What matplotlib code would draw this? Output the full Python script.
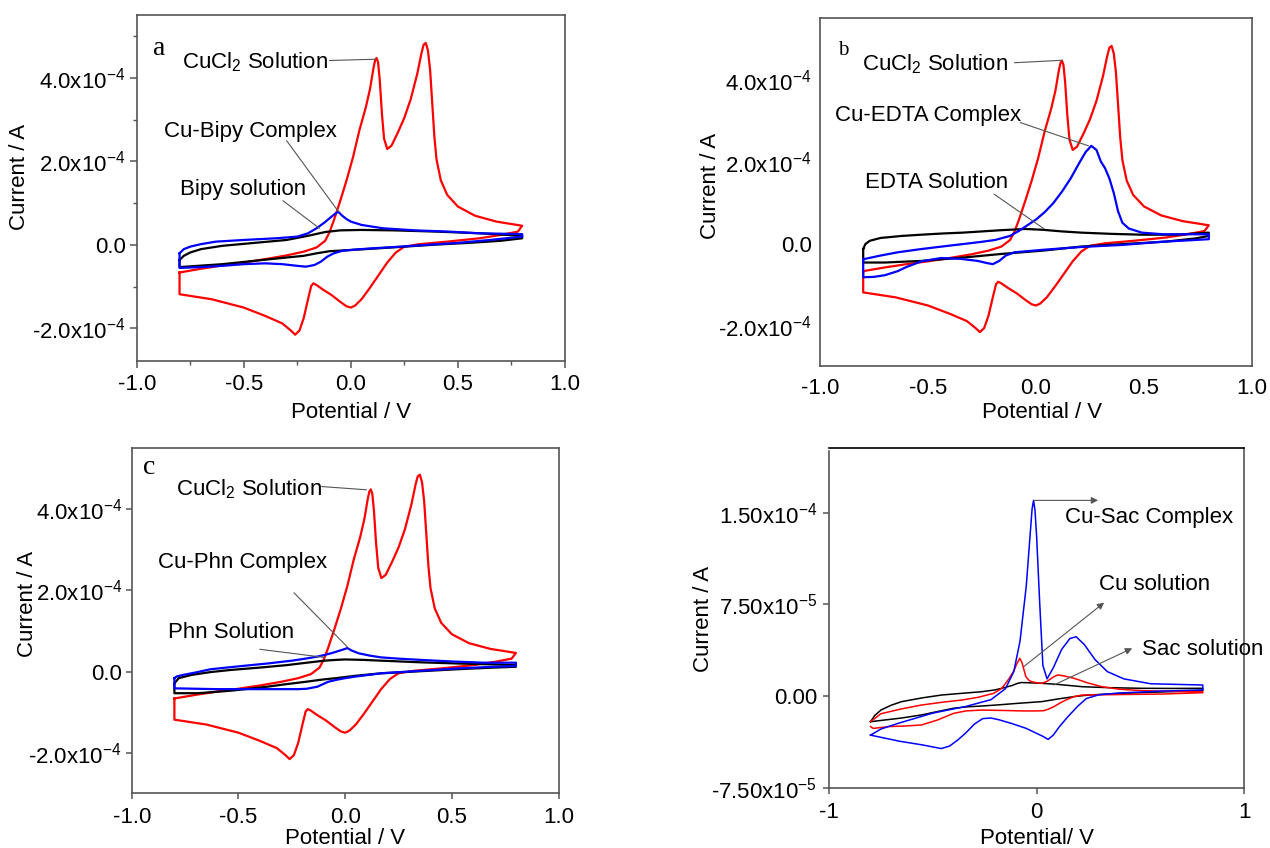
import matplotlib
matplotlib.use('Agg')
import matplotlib.pyplot as plt
import numpy as np

plt.rcParams['font.family'] = ['Liberation Sans', 'DejaVu Sans']
plt.rcParams['mathtext.fontset'] = 'custom'
plt.rcParams['mathtext.rm'] = 'Liberation Sans'
plt.rcParams['mathtext.it'] = 'Liberation Sans:italic'
plt.rcParams['axes.unicode_minus'] = False

# ─── DATA (potential in V, current in 1e-4 A for a-c, 1e-5 A for d) ─────────

# CuCl2 solution, same voltammogram in panels a, b, c
cucl2_fwd_x = [-0.80, -0.70, -0.60, -0.50, -0.40, -0.30, -0.22, -0.16, -0.12, -0.10,
               -0.08, -0.05, -0.02, 0.01, 0.04, 0.07, 0.09, 0.105, 0.113, 0.12,
               0.127, 0.135, 0.145, 0.155, 0.17, 0.19, 0.22, 0.25, 0.28, 0.31,
               0.33, 0.34, 0.35, 0.36, 0.37, 0.38, 0.39, 0.40, 0.42, 0.45,
               0.50, 0.58, 0.68, 0.80]
cucl2_fwd_i = [-0.66, -0.57, -0.49, -0.42, -0.34, -0.25, -0.16, -0.06, 0.10, 0.30,
               0.58, 1.05, 1.55, 2.10, 2.75, 3.30, 3.75, 4.22, 4.42, 4.48,
               4.38, 3.95, 3.15, 2.55, 2.30, 2.38, 2.70, 3.05, 3.50, 4.10,
               4.60, 4.80, 4.84, 4.66, 4.20, 3.40, 2.60, 2.05, 1.55, 1.20,
               0.92, 0.70, 0.56, 0.46]
cucl2_rev_x = [0.80, 0.78, 0.70, 0.60, 0.45, 0.32, 0.25, 0.21, 0.17, 0.13,
               0.09, 0.05, 0.02, 0.00, -0.02, -0.05, -0.09, -0.13, -0.16, -0.175,
               -0.185, -0.20, -0.22, -0.24, -0.26, -0.28, -0.32, -0.40, -0.50, -0.65,
               -0.80, -0.80]
cucl2_rev_i = [0.46, 0.32, 0.24, 0.16, 0.08, 0.02, -0.04, -0.18, -0.42, -0.72,
               -1.02, -1.30, -1.45, -1.50, -1.47, -1.36, -1.20, -1.07, -0.96, -0.92,
               -0.98, -1.30, -1.75, -2.05, -2.15, -2.05, -1.88, -1.70, -1.50, -1.30,
               -1.18, -0.66]

# panel a: Cu-Bipy complex and Bipy solution
bipy_cx_fwd_x = [-0.80, -0.78, -0.75, -0.70, -0.63, -0.50, -0.35, -0.25, -0.20, -0.16,
                 -0.12, -0.09, -0.06, -0.04, -0.02, 0.00, 0.05, 0.15, 0.30, 0.46, 0.60, 0.80]
bipy_cx_fwd_i = [-0.20, -0.10, -0.04, 0.02, 0.08, 0.12, 0.16, 0.20, 0.28, 0.40,
                 0.55, 0.68, 0.80, 0.70, 0.62, 0.56, 0.48, 0.40, 0.35, 0.32, 0.28, 0.26]
bipy_cx_rev_x = [0.80, 0.65, 0.50, 0.35, 0.20, 0.10, 0.02, -0.04, -0.08, -0.11,
                 -0.14, -0.17, -0.21, -0.25, -0.32, -0.40, -0.50, -0.60, -0.70, -0.80, -0.80]
bipy_cx_rev_i = [0.20, 0.12, 0.05, 0.00, -0.05, -0.08, -0.11, -0.14, -0.20, -0.28,
                 -0.40, -0.48, -0.52, -0.50, -0.46, -0.44, -0.46, -0.50, -0.53, -0.55, -0.20]
bipy_fwd_x = [-0.80, -0.78, -0.75, -0.70, -0.60, -0.45, -0.30, -0.20, -0.12, -0.05,
              0.05, 0.20, 0.40, 0.60, 0.80]
bipy_fwd_i = [-0.36, -0.26, -0.18, -0.10, -0.02, 0.05, 0.12, 0.22, 0.31, 0.35,
              0.36, 0.35, 0.32, 0.28, 0.22]
bipy_rev_x = [0.80, 0.70, 0.55, 0.40, 0.25, 0.10, 0.00, -0.10, -0.16, -0.22,
              -0.30, -0.45, -0.60, -0.80, -0.80]
bipy_rev_i = [0.16, 0.10, 0.05, 0.01, -0.04, -0.09, -0.12, -0.15, -0.20, -0.26,
              -0.30, -0.38, -0.46, -0.53, -0.36]

# panel b: Cu-EDTA complex and EDTA solution
edta_cx_fwd_x = [-0.80, -0.72, -0.64, -0.53, -0.42, -0.34, -0.26, -0.19, -0.12, -0.08,
                 -0.04, 0.00, 0.04, 0.08, 0.12, 0.16, 0.20, 0.23, 0.256, 0.28,
                 0.30, 0.32, 0.34, 0.36, 0.38, 0.40, 0.43, 0.49, 0.59, 0.70, 0.80]
edta_cx_fwd_i = [-0.37, -0.28, -0.20, -0.12, -0.05, 0.00, 0.05, 0.10, 0.20, 0.32,
                 0.46, 0.60, 0.78, 1.00, 1.28, 1.60, 1.98, 2.25, 2.40, 2.30,
                 2.02, 1.85, 1.60, 1.25, 0.80, 0.52, 0.38, 0.28, 0.24, 0.24, 0.24]
edta_cx_rev_x = [0.80, 0.70, 0.59, 0.40, 0.21, 0.03, -0.10, -0.14, -0.17, -0.20,
                 -0.23, -0.27, -0.35, -0.44, -0.53, -0.60, -0.64, -0.70, -0.75, -0.80, -0.80]
edta_cx_rev_i = [0.12, 0.09, 0.06, -0.02, -0.07, -0.14, -0.20, -0.28, -0.41, -0.49,
                 -0.46, -0.41, -0.36, -0.34, -0.42, -0.56, -0.66, -0.76, -0.80, -0.81, -0.37]
edta_fwd_x = [-0.80, -0.79, -0.77, -0.72, -0.62, -0.53, -0.43, -0.34, -0.25, -0.16,
              -0.05, 0.03, 0.12, 0.21, 0.35, 0.49, 0.65, 0.80]
edta_fwd_i = [-0.12, 0.00, 0.08, 0.15, 0.20, 0.23, 0.26, 0.28, 0.31, 0.34,
              0.37, 0.35, 0.31, 0.28, 0.25, 0.23, 0.23, 0.28]
edta_rev_x = [0.80, 0.74, 0.60, 0.40, 0.21, 0.03, -0.16, -0.34, -0.53, -0.70, -0.80, -0.80]
edta_rev_i = [0.20, 0.14, 0.06, 0.00, -0.06, -0.16, -0.24, -0.33, -0.41, -0.45, -0.45, -0.12]

# panel c: Cu-Phn complex and Phn solution
phn_cx_fwd_x = [-0.80, -0.79, -0.76, -0.70, -0.63, -0.50, -0.365, -0.25, -0.186, -0.13,
                -0.097, -0.06, -0.03, 0.00, 0.01, 0.03, 0.064, 0.12, 0.17, 0.25,
                0.35, 0.50, 0.65, 0.80]
phn_cx_fwd_i = [-0.16, -0.12, -0.08, -0.02, 0.06, 0.13, 0.20, 0.27, 0.32, 0.37,
                0.41, 0.46, 0.51, 0.56, 0.58, 0.52, 0.45, 0.39, 0.35, 0.32,
                0.29, 0.25, 0.22, 0.22]
phn_cx_rev_x = [0.80, 0.65, 0.53, 0.35, 0.17, 0.05, 0.00, -0.04, -0.08, -0.13,
                -0.18, -0.22, -0.30, -0.45, -0.60, -0.80, -0.80]
phn_cx_rev_i = [0.14, 0.11, 0.08, 0.02, -0.04, -0.12, -0.16, -0.20, -0.25, -0.37,
                -0.42, -0.43, -0.43, -0.43, -0.43, -0.41, -0.16]
phn_fwd_x = [-0.80, -0.78, -0.72, -0.63, -0.54, -0.40, -0.275, -0.18, -0.097, -0.04,
             0.00, 0.08, 0.17, 0.35, 0.53, 0.68, 0.80]
phn_fwd_i = [-0.29, -0.16, -0.08, -0.01, 0.04, 0.10, 0.16, 0.22, 0.27, 0.29,
             0.30, 0.29, 0.27, 0.23, 0.20, 0.18, 0.16]
phn_rev_x = [0.80, 0.65, 0.53, 0.35, 0.17, 0.05, -0.043, -0.10, -0.186, -0.28,
             -0.365, -0.45, -0.54, -0.69, -0.80, -0.80]
phn_rev_i = [0.12, 0.09, 0.06, 0.01, -0.04, -0.10, -0.16, -0.19, -0.25, -0.31,
             -0.37, -0.42, -0.47, -0.53, -0.53, -0.29]

# panel d (1e-5 A): Cu-Sac complex, Cu solution, Sac solution
sac_cx_fwd_x = [-0.80, -0.75, -0.66, -0.50, -0.34, -0.22, -0.15, -0.11, -0.08, -0.05,
                -0.03, -0.022, -0.015, -0.008, 0.00, 0.015, 0.03, 0.05, 0.08, 0.12,
                0.16, 0.19, 0.23, 0.28, 0.34, 0.42, 0.55, 0.80]
sac_cx_fwd_i = [-3.2, -2.7, -2.2, -1.4, -0.85, -0.3, 0.6, 2.0, 4.5, 9.0,
                13.5, 15.3, 16.0, 15.2, 13.0, 7.5, 2.5, 1.4, 2.3, 3.8,
                4.7, 4.85, 4.2, 3.0, 2.0, 1.4, 1.0, 0.9]
sac_cx_rev_x = [0.80, 0.60, 0.40, 0.30, 0.24, 0.20, 0.15, 0.11, 0.08, 0.055,
                0.03, -0.05, -0.12, -0.18, -0.22, -0.26, -0.30, -0.34, -0.38, -0.42,
                -0.46, -0.55, -0.66, -0.80]
sac_cx_rev_i = [0.5, 0.4, 0.25, 0.1, -0.2, -0.8, -1.7, -2.5, -3.2, -3.55,
                -3.3, -2.65, -2.25, -1.95, -1.8, -1.85, -2.3, -3.0, -3.6, -4.1,
                -4.3, -4.0, -3.7, -3.2]
cu_fwd_x = [-0.80, -0.75, -0.65, -0.555, -0.45, -0.36, -0.28, -0.207, -0.17, -0.149,
            -0.13, -0.11, -0.095, -0.081, -0.07, -0.052, -0.035, -0.023, 0.00, 0.025,
            0.05, 0.083, 0.102, 0.13, 0.18, 0.25, 0.315, 0.40, 0.508, 0.65, 0.80]
cu_fwd_i = [-2.1, -1.45, -1.05, -0.74, -0.50, -0.33, -0.10, 0.22, 0.60, 1.04,
            1.50, 2.05, 2.65, 3.08, 2.70, 1.58, 1.25, 1.17, 1.08, 1.04,
            1.20, 1.58, 1.72, 1.65, 1.45, 1.05, 0.76, 0.55, 0.44, 0.38, 0.35]
cu_rev_x = [0.80, 0.60, 0.40, 0.22, 0.18, 0.14, 0.11, 0.083, 0.06, 0.035,
            0.00, -0.07, -0.17, -0.265, -0.34, -0.40, -0.44, -0.477, -0.555, -0.63,
            -0.71, -0.787, -0.80]
cu_rev_i = [0.27, 0.16, 0.12, 0.08, -0.05, -0.33, -0.60, -0.87, -1.05, -1.20,
            -1.22, -1.22, -1.18, -1.15, -1.22, -1.42, -1.70, -1.96, -2.37, -2.45,
            -2.50, -2.65, -2.5]
sac_fwd_x = [-0.80, -0.78, -0.75, -0.70, -0.65, -0.55, -0.458, -0.36, -0.265, -0.20,
             -0.168, -0.12, -0.091, -0.075, -0.052, 0.025, 0.10, 0.22, 0.35, 0.508,
             0.65, 0.80]
sac_fwd_i = [-2.1, -1.6, -1.15, -0.75, -0.46, -0.15, 0.08, 0.22, 0.35, 0.50,
             0.63, 0.85, 1.04, 1.10, 1.09, 1.04, 0.95, 0.76, 0.68, 0.63,
             0.62, 0.63]
sac_rev_x = [0.80, 0.60, 0.41, 0.25, 0.18, 0.10, 0.025, -0.091, -0.18, -0.265,
             -0.33, -0.40, -0.48, -0.555, -0.65, -0.75, -0.80]
sac_rev_i = [0.44, 0.33, 0.22, 0.08, -0.05, -0.25, -0.46, -0.60, -0.72, -0.82,
             -0.88, -1.00, -1.28, -1.55, -1.80, -2.00, -2.10]

xticks_abc = [-1.0, -0.5, 0.0, 0.5, 1.0]
xticklabels_abc = ['-1.0', '-0.5', '0.0', '0.5', '1.0']
yticks_abc = [-2e-4, 0.0, 2e-4, 4e-4]
yticklabels_abc = ['-2.0x10$^{-4}$', '0.0', '2.0x10$^{-4}$', '4.0x10$^{-4}$']
xticks_d = [-1, 0, 1]
xticklabels_d = ['-1', '0', '1']
yticks_d = [-7.5e-5, 0.0, 7.5e-5, 1.5e-4]
yticklabels_d = ['-7.50x10$^{-5}$', '0.00', '7.50x10$^{-5}$', '1.50x10$^{-4}$']

# ─── DRAWING ─────────────────────────────────────────────────────────────────

W, H = 1270, 848
SPINE = '#555555'
LEAD = '#555555'
FS = 16


def axes_px(fig, left, top, right, bottom):
    return fig.add_axes([left / W, (H - bottom) / H, (right - left) / W, (bottom - top) / H])


def loop(ax, fx, fi, rx, ri, scale, color, lw):
    x = np.concatenate([fx, rx])
    y = np.concatenate([fi, ri]) * scale
    ax.plot(x, y, color=color, lw=lw, solid_joinstyle='round', zorder=3)


def setup(ax, ylim, xt, xtl, yt, ytl, ticklen, xpad, ypad):
    ax.set_xlim(-1.0, 1.0)
    ax.set_ylim(*ylim)
    ax.set_xticks(xt)
    ax.set_xticklabels(xtl)
    ax.set_yticks(yt)
    ax.set_yticklabels(ytl)
    for s in ax.spines.values():
        s.set_color(SPINE)
        s.set_linewidth(1.2)
    ax.tick_params(which='major', direction='out', length=ticklen, width=1.1,
                   color=SPINE, labelsize=FS, top=False, right=False)
    ax.tick_params(axis='x', pad=xpad)
    ax.tick_params(axis='y', pad=ypad)


def lead(ax, xy_from, xy_to, arrow=False):
    ax.annotate('', xy=xy_to, xytext=xy_from,
                arrowprops=dict(arrowstyle='-|>' if arrow else '-', color=LEAD,
                                lw=0.8, mutation_scale=10, shrinkA=0, shrinkB=0))


fig = plt.figure(figsize=(W / 100, H / 100), dpi=100)

# ---- panel a ----
ax = axes_px(fig, 136.7, 15, 565, 361)
loop(ax, cucl2_fwd_x, cucl2_fwd_i, cucl2_rev_x, cucl2_rev_i, 1e-4, '#ff0000', 1.6)
loop(ax, bipy_fwd_x, bipy_fwd_i, bipy_rev_x, bipy_rev_i, 1e-4, 'black', 1.6)
loop(ax, bipy_cx_fwd_x, bipy_cx_fwd_i, bipy_cx_rev_x, bipy_cx_rev_i, 1e-4, '#0000ff', 1.6)
setup(ax, (-2.78e-4, 5.51e-4), xticks_abc, xticklabels_abc, yticks_abc, yticklabels_abc,
      5, 4.5, 3)
ax.set_xticks([-0.75, -0.25, 0.25, 0.75], minor=True)
ax.set_yticks([-1e-4, 1e-4, 3e-4, 5e-4], minor=True)
ax.tick_params(which='minor', direction='out', length=3, width=1.0, color=SPINE,
               top=False, right=False)
ax.text(-0.925, 4.55e-4, 'a', family='Liberation Serif', fontsize=20, va='baseline')
ax.text(-0.105, 4.38e-4, 'CuCl$_2$ Solution', fontsize=FS, ha='right', va='center')
lead(ax, (-0.10, 4.42e-4), (0.115, 4.45e-4))
ax.text(-0.468, 2.71e-4, 'Cu-Bipy Complex', fontsize=FS, ha='center', va='center')
lead(ax, (-0.30, 2.50e-4), (-0.058, 0.80e-4))
ax.text(-0.503, 1.34e-4, 'Bipy solution', fontsize=FS, ha='center', va='center')
lead(ax, (-0.317, 1.06e-4), (-0.147, 0.40e-4))
ax.set_ylabel('Current / A', fontsize=FS)
ax.set_xlabel('Potential / V', fontsize=FS)
ax.yaxis.set_label_coords(-0.25, 0.533)
ax.xaxis.set_label_coords(0.5, -0.118)

# ---- panel b ----
ax = axes_px(fig, 820, 17.7, 1252, 365.7)
loop(ax, cucl2_fwd_x, cucl2_fwd_i, cucl2_rev_x, cucl2_rev_i, 1e-4, '#ff0000', 1.6)
loop(ax, edta_fwd_x, edta_fwd_i, edta_rev_x, edta_rev_i, 1e-4, 'black', 1.6)
loop(ax, edta_cx_fwd_x, edta_cx_fwd_i, edta_cx_rev_x, edta_cx_rev_i, 1e-4, '#0000ff', 1.6)
setup(ax, (-2.97e-4, 5.53e-4), xticks_abc, xticklabels_abc, yticks_abc, yticklabels_abc,
      0, 8.5, 6)
ax.text(-0.917, 4.62e-4, 'b', family='Liberation Serif', fontsize=15, va='baseline')
ax.text(-0.13, 4.40e-4, 'CuCl$_2$ Solution', fontsize=FS, ha='right', va='center')
lead(ax, (-0.10, 4.43e-4), (0.122, 4.49e-4))
ax.text(-0.50, 3.13e-4, 'Cu-EDTA Complex', fontsize=FS, ha='center', va='center')
lead(ax, (-0.073, 2.97e-4), (0.243, 2.40e-4))
ax.text(-0.46, 1.50e-4, 'EDTA Solution', fontsize=FS, ha='center', va='center')
lead(ax, (-0.194, 1.22e-4), (0.038, 0.37e-4))
ax.set_ylabel('Current / A', fontsize=FS)
ax.set_xlabel('Potential / V', fontsize=FS)
ax.yaxis.set_label_coords(-0.23, 0.517)
ax.xaxis.set_label_coords(0.513, -0.103)

# ---- panel c ----
ax = axes_px(fig, 131.7, 448.3, 558.6, 793.3)
loop(ax, cucl2_fwd_x, cucl2_fwd_i, cucl2_rev_x, cucl2_rev_i, 1e-4, '#ff0000', 1.6)
loop(ax, phn_fwd_x, phn_fwd_i, phn_rev_x, phn_rev_i, 1e-4, 'black', 1.6)
loop(ax, phn_cx_fwd_x, phn_cx_fwd_i, phn_cx_rev_x, phn_cx_rev_i, 1e-4, '#0000ff', 1.6)
setup(ax, (-2.99e-4, 5.49e-4), xticks_abc, xticklabels_abc, yticks_abc, yticklabels_abc,
      4, 6, 3)
ax.text(-0.947, 4.85e-4, 'c', family='Liberation Serif', fontsize=20, va='baseline')
ax.text(-0.449, 4.48e-4, 'CuCl$_2$ Solution', fontsize=FS, ha='center', va='center')
lead(ax, (-0.11, 4.55e-4), (0.10, 4.47e-4))
ax.text(-0.48, 2.68e-4, 'Cu-Phn Complex', fontsize=FS, ha='center', va='center')
lead(ax, (-0.24, 1.94e-4), (0.01, 0.61e-4))
ax.text(-0.533, 0.96e-4, 'Phn Solution', fontsize=FS, ha='center', va='center')
lead(ax, (-0.40, 0.55e-4), (-0.097, 0.35e-4))
ax.set_ylabel('Current / A', fontsize=FS)
ax.set_xlabel('Potential / V', fontsize=FS)
ax.yaxis.set_label_coords(-0.22, 0.549)
ax.xaxis.set_label_coords(0.5, -0.10)

# ---- panel d ----
ax = axes_px(fig, 829, 448.3, 1244.3, 787.7)
loop(ax, sac_fwd_x, sac_fwd_i, sac_rev_x, sac_rev_i, 1e-5, 'black', 1.1)
loop(ax, cu_fwd_x, cu_fwd_i, cu_rev_x, cu_rev_i, 1e-5, '#ff0000', 1.1)
loop(ax, sac_cx_fwd_x, sac_cx_fwd_i, sac_cx_rev_x, sac_cx_rev_i, 1e-5, '#0000ff', 1.1)
setup(ax, (-7.5e-5, 2.026e-4), xticks_d, xticklabels_d, yticks_d, yticklabels_d,
      4, 6, 4.5)
ax.spines['top'].set_color('black')
ax.spines['left'].set_bounds(-7.5e-5, 2.0e-4)
ax.text(0.137, 1.46e-4, 'Cu-Sac Complex', fontsize=FS, ha='left', va='center')
lead(ax, (-0.014, 1.60e-4), (0.296, 1.60e-4), arrow=True)
ax.text(0.30, 0.908e-4, 'Cu solution', fontsize=FS, ha='left', va='center')
lead(ax, (-0.062, 0.24e-4), (0.325, 0.764e-4), arrow=True)
ax.text(0.508, 0.382e-4, 'Sac solution', fontsize=FS, ha='left', va='center')
lead(ax, (0.083, 0.09e-4), (0.46, 0.39e-4), arrow=True)
ax.set_ylabel('Current / A', fontsize=FS)
ax.set_xlabel('Potential/ V', fontsize=FS)
ax.yaxis.set_label_coords(-0.276, 0.497)
ax.xaxis.set_label_coords(0.5, -0.119)

plt.savefig('out.png', dpi=100, facecolor='white')
plt.close()
